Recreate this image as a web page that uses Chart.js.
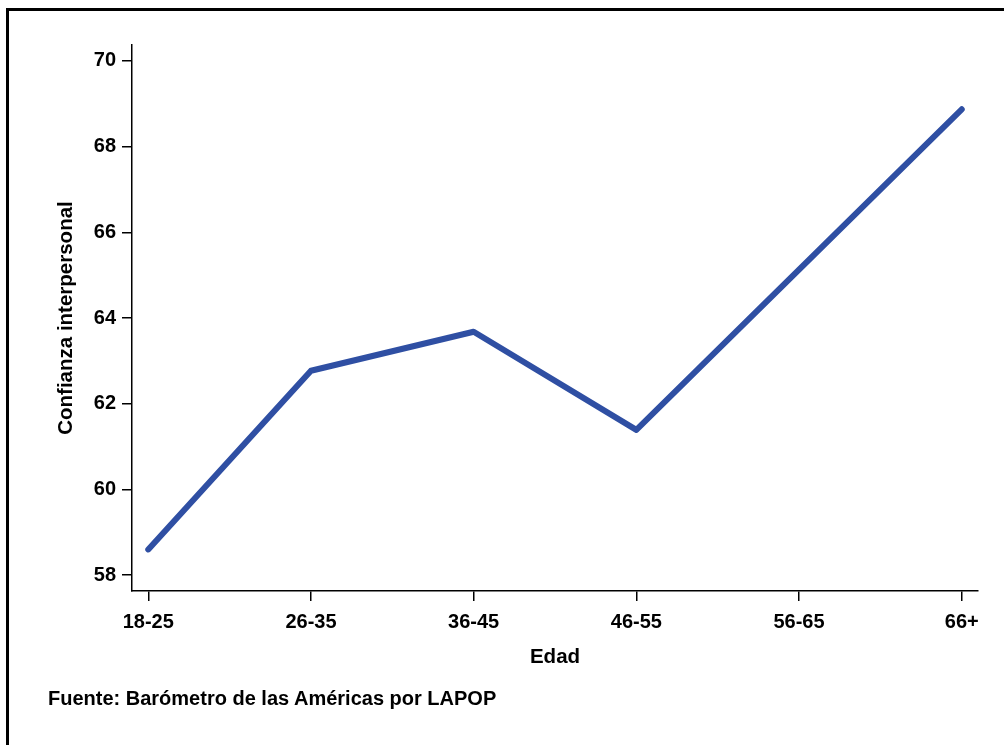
<!DOCTYPE html>
<html>
<head>
<meta charset="utf-8">
<script src="https://cdn.jsdelivr.net/npm/chart.js@4.4.1/dist/chart.umd.min.js"></script>
<style>
    html, body { margin: 0; padding: 0; background: #fff; }
    #wrap { position: relative; width: 1004px; height: 745px; overflow: hidden; }
    #frame {
        position: absolute; left: 6px; top: 8px; width: 1100px; height: 900px;
        border-top: 3px solid #000; border-left: 3px solid #000;
    }
    #fuente {
        position: absolute; left: 48px; top: 687px;
        font: bold 20px "Liberation Sans", Arial, sans-serif; color: #000;
    }
    canvas { position: absolute; left: 0; top: 0; }
</style>
</head>
<body>
<div id="wrap">
    <div id="frame"></div>
    <canvas id="chart" width="1004" height="745"></canvas>
    <div id="fuente">Fuente: Barómetro de las Américas por LAPOP</div>
</div>
<script>
const categorias = ['18-25', '26-35', '36-45', '46-55', '56-65', '66+'];
const confianza = [58.6, 62.77, 63.68, 61.39, 65.13, 68.87];
const yTicks = [58, 60, 62, 64, 66, 68, 70];

const fontFamily = '"Liberation Sans", Arial, sans-serif';

document.addEventListener('DOMContentLoaded', function () {
    const ctx = document.getElementById('chart');

    new Chart(ctx, {
        type: 'line',
        data: {
            datasets: [{
                data: confianza.map(function (v, i) { return { x: i, y: v }; }),
                borderColor: '#2f4fa3',
                borderWidth: 6,
                borderCapStyle: 'round',
                borderJoinStyle: 'round',
                pointRadius: 0,
                tension: 0,
                fill: false
            }]
        },
        options: {
            responsive: false,
            animation: false,
            devicePixelRatio: 1,
            layout: { padding: { left: 0, top: 45, right: 26, bottom: 0 } },
            plugins: {
                legend: { display: false },
                tooltip: { enabled: false }
            },
            scales: {
                x: {
                    type: 'linear',
                    min: -0.1,
                    max: 5.1,
                    afterFit: function (scale) { scale.height = 154; },
                    afterBuildTicks: function (scale) {
                        scale.ticks = categorias.map(function (c, i) { return { value: i }; });
                    },
                    border: { display: true, color: '#000', width: 1.5 },
                    grid: { drawOnChartArea: false, drawTicks: true, tickLength: 10, color: '#000', lineWidth: 1.5 },
                    ticks: {
                        padding: 9,
                        color: '#000',
                        font: { family: fontFamily, size: 20, weight: 'bold' },
                        callback: function (v) { return categorias[v]; },
                        maxRotation: 0
                    },
                    title: {
                        display: true,
                        text: 'Edad',
                        color: '#000',
                        font: { family: fontFamily, size: 20.5, weight: 'bold' },
                        padding: { top: 0, bottom: 75 }
                    }
                },
                y: {
                    min: 57.63,
                    max: 70.37,
                    afterFit: function (scale) { scale.width = 132; },
                    afterBuildTicks: function (scale) {
                        scale.ticks = yTicks.map(function (t) { return { value: t }; });
                    },
                    border: { display: true, color: '#000', width: 1.5 },
                    grid: { drawOnChartArea: false, drawTicks: true, tickLength: 10, color: '#000', lineWidth: 1.5 },
                    ticks: {
                        padding: 6,
                        color: '#000',
                        font: { family: fontFamily, size: 20, weight: 'bold' }
                    },
                    title: {
                        display: true,
                        text: 'Confianza interpersonal',
                        color: '#000',
                        font: { family: fontFamily, size: 20.5, weight: 'bold' },
                        padding: { top: 54, bottom: 0 }
                    }
                }
            }
        }
    });
});
</script>
</body>
</html>
